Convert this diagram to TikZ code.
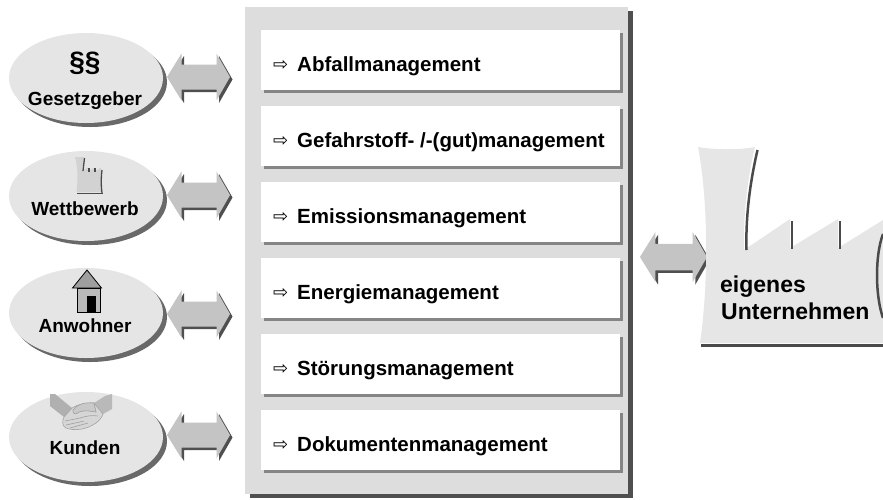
\documentclass[tikz,border=0pt]{standalone}
\usepackage{fontspec}
\setmainfont{Liberation Sans}
\newfontfamily\symfont{DejaVu Sans}
\usetikzlibrary{shapes.geometric,shadows}

\definecolor{panelgray}{HTML}{DDDDDD}
\definecolor{ovalgray}{HTML}{E5E5E5}
\definecolor{shadowdark}{HTML}{4F4F4F}
\definecolor{arrowgray}{HTML}{C4C4C4}
\definecolor{boxshadow}{HTML}{858585}
\definecolor{factorygray}{HTML}{E6E6E6}
\definecolor{linedark}{HTML}{4A4A4A}

\begin{document}
\begin{tikzpicture}[x=1pt,y=-1pt,
  panel/.style={fill=panelgray, minimum width=383pt, minimum height=487pt, inner sep=0pt,
    drop shadow={shadow xshift=5pt, shadow yshift=-4pt, fill=shadowdark, opacity=1}},
  taskbox/.style={fill=white, minimum width=359pt, minimum height=60pt, inner sep=0pt, anchor=north west,
    drop shadow={shadow xshift=3pt, shadow yshift=-3pt, fill=boxshadow, opacity=1}},
  tasktext/.style={font=\fontsize{20.5}{24}\selectfont\bfseries, anchor=base west, inner sep=0pt},
  taskmark/.style={font=\symfont\fontsize{18}{18}\selectfont, anchor=base west, inner sep=0pt},
  oval/.style={ellipse, fill=ovalgray, minimum width=154pt, minimum height=90pt, inner sep=0pt,
    drop shadow={shadow xshift=4pt, shadow yshift=-4pt, fill=shadowdark!85, opacity=1}},
  ovallabel/.style={font=\fontsize{19}{22}\selectfont\bfseries, anchor=base, inner sep=0pt},
  firmlabel/.style={font=\fontsize{23}{27}\selectfont\bfseries, anchor=base west, inner sep=0pt},
  dblarrow/.pic={
    \fill[shadowdark, shift={(2.5,2.5)}] (-31.5,0) -- (-17,-23.5) -- (-17,-12.5) -- (18,-12.5) -- (18,-23.5)
      -- (31.5,0) -- (18,23.5) -- (18,12.5) -- (-17,12.5) -- (-17,23.5) -- cycle;
    \fill[arrowgray] (-31.5,0) -- (-17,-23.5) -- (-17,-12.5) -- (18,-12.5) -- (18,-23.5)
      -- (31.5,0) -- (18,23.5) -- (18,12.5) -- (-17,12.5) -- (-17,23.5) -- cycle;
  }
]
\useasboundingbox (0,0) rectangle (883,499);

% central panel with the six management fields
\node[panel] (panel) at (436.5,250.5) {};
\foreach \i/\top/\txt in {1/30/{Abfallmanagement}, 2/106/{Gefahrstoff- /-(gut)management},
    3/182/{Emissionsmanagement}, 4/258/{Energiemanagement}, 5/334/{Störungsmanagement},
    6/410/{Dokumentenmanagement}}{
  \node[taskbox] (box\i) at (261,\top) {};
  \node[taskmark] (mark\i) at (273,\top+40) {⇨};
  \node[tasktext] (task\i) at (297,\top+41) {\txt};
}

% stakeholder ovals
\node[oval] (law) at (86,78) {};
\node[oval] (rival) at (86,196) {};
\node[oval] (resident) at (86,313) {};
\node[oval] (client) at (86,437) {};

\node[ovallabel] (lawtxt) at (85,105) {Gesetzgeber};
\node[font=\fontsize{28}{30}\selectfont\bfseries, inner sep=0pt] (para) at (85,63) {§§};
\node[ovallabel] (rivaltxt) at (85,215) {Wettbewerb};
\node[ovallabel] (residenttxt) at (85,332) {Anwohner};
\node[ovallabel] (clienttxt) at (85,454) {Kunden};

% small factory icon
\fill[gray!35] (75,157) -- (84,157) -- (82,171) -- (88,167.5) -- (88,172) -- (94,167.5) -- (94,172)
  -- (101,167.5) -- (101,192) -- (76.5,192) .. controls (78,180) and (78,168) .. (75,157) -- cycle;
\draw[linedark, line width=1.3pt] (84.5,158) -- (83,171);
\draw[linedark, line width=1.1pt] (89,168) -- (89,172) (95,168) -- (95,172);
\draw[linedark, line width=1.3pt] (102,170) .. controls (101,178) and (101,186) .. (102,193);
\draw[linedark, line width=1.3pt] (77,193.5) -- (103,193.5);

% house icon
\draw[black, line width=0.8pt, fill=gray!75] (72.5,288) -- (87,270) -- (101.5,288) -- cycle;
\draw[black, line width=0.8pt, fill=gray!55] (77,288) rectangle (100,312);
\fill[black] (87,296) rectangle (96,312);

% handshake icon: two sleeves, clasped hands
\fill[gray!62] (50,394) -- (55,394) -- (72,408) -- (64,417) -- (50,406) -- cycle;
\fill[gray!55] (112,394) -- (112,409) -- (103,414) -- (94,403) -- (105,396) -- cycle;
\draw[gray!72, fill=gray!32, line width=0.6pt] (64,417) .. controls (62,421) and (62,426) .. (66,428)
  .. controls (74,431) and (86,430) .. (96,423) .. controls (100,420) and (102,417) .. (103,414)
  -- (94,403) .. controls (86,403) and (78,404) .. (72,408) -- cycle;
\draw[gray!75, fill=gray!42, line width=0.6pt] (94,403) .. controls (86,402) and (77,404) .. (73,410)
  .. controls (72,414) and (76,415) .. (79,412) .. controls (84,410) and (90,411) .. (96,412) -- cycle;
\draw[gray!75, line width=0.6pt] (65,421) -- (80,418) (66,425) -- (84,421) (70,428) -- (88,423)
  (80,418) .. controls (86,416) and (92,415) .. (98,416);

% block arrows towards the panel
\pic (a1) at (198.5,77) {dblarrow};
\pic (a2) at (198.5,195) {dblarrow};
\pic (a3) at (198.5,314) {dblarrow};
\pic (a4) at (198.5,435) {dblarrow};
\pic[xscale=1.065, yscale=1.06] (a5) at (673.5,257) {dblarrow};

% own company: cooling tower and saw-tooth hall
\fill[factorygray] (698,147) .. controls (715,150) and (740,150) .. (755,147)
  .. controls (748,175) and (743,215) .. (744,250)
  -- (790,219) -- (790,248) -- (838,219) -- (838,248) -- (883,220) -- (883,343) -- (700,343)
  .. controls (709,280) and (708,200) .. (698,147) -- cycle;
\draw[linedark, line width=2.5pt] (757.5,150) .. controls (750.5,180) and (745.5,215) .. (746.5,250);
\draw[linedark, line width=2pt] (791.5,221) -- (791.5,249) (839.5,221) -- (839.5,249);
\draw[linedark, line width=2.5pt] (883,234) .. controls (875,255) and (875,295) .. (883,318);
\draw[linedark, line width=2.5pt] (701,345.5) -- (883,345.5);
\node[firmlabel] (firm1) at (720,292) {eigenes};
\node[firmlabel] (firm2) at (721,319) {Unternehmen};
\end{tikzpicture}
\end{document}
